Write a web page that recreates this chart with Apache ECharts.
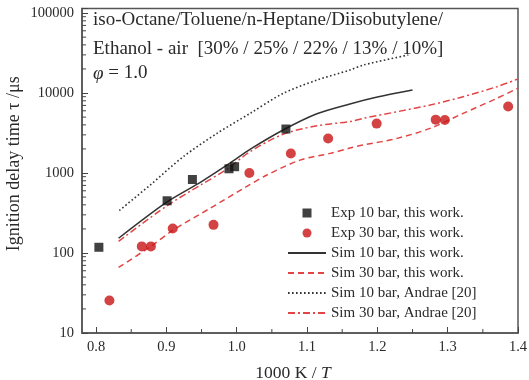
<!DOCTYPE html>
<html>
<head>
<meta charset="utf-8">
<script src="https://cdn.jsdelivr.net/npm/echarts@6/dist/echarts.min.js"></script>
<style>
  html, body { margin: 0; padding: 0; background: #fff; }
  #main { width: 529px; height: 380px; }
</style>
</head>
<body>
<div id="main"></div>
<script>
// 1000 K / T vs ignition delay time (µs)
var exp10 = [[0.804, 118], [0.901, 450], [0.937, 830], [0.989, 1130], [0.997, 1200], [1.070, 3550]];
var exp30 = [[0.819, 25.5], [0.865, 121], [0.878, 121], [0.909, 202], [0.967, 225], [1.018, 1000],
             [1.077, 1750], [1.130, 2700], [1.199, 4150], [1.283, 4650], [1.296, 4600], [1.386, 6800]];
var sim10 = [[0.832, 153], [0.9, 430], [0.95, 780], [0.99, 1320], [1.02, 2000], [1.066, 3450],
             [1.114, 5500], [1.161, 7300], [1.2, 8900], [1.25, 10900]];
var sim30 = [[0.832, 66], [0.877, 120], [0.91, 194], [0.962, 362], [1.01, 644], [1.043, 944],
             [1.09, 1450], [1.133, 1760], [1.161, 2050], [1.18, 2240], [1.228, 2710], [1.275, 3620],
             [1.322, 5570], [1.37, 8590], [1.4, 11500]];
var andrae10 = [[0.833, 340], [0.877, 708], [0.924, 1600], [0.972, 3130], [1.019, 5570], [1.066, 9900],
                [1.114, 14500], [1.161, 19400], [1.18, 22400], [1.244, 29900]];
var andrae30 = [[0.832, 140], [0.9, 385], [0.95, 720], [0.985, 1100], [1.019, 1850], [1.066, 3050],
                [1.114, 3900], [1.161, 4400], [1.18, 4830], [1.228, 5840], [1.275, 7080], [1.322, 9000],
                [1.37, 12000], [1.4, 15000]];
var titleLines = ['iso-Octane/Toluene/n-Heptane/Diisobutylene/',
                  'Ethanol - air  [30% / 25% / 22% / 13% / 10%]',
                  '{i|φ} = 1.0'];

var xMin = 0.78, xMax = 1.4, yMin = 10, yMax = 114000;
var serif = '"Liberation Serif", "DejaVu Serif", serif';
var ink = '#2a2a2a';
var red = '#c81414';
var lightRed = '#e24545';

// minor ticks (log decades 2..9, x halves)
var minorTicks = [];
for (var d = 10; d < 100000; d *= 10) {
    for (var k = 2; k <= 9; k++) minorTicks.push([xMin, d * k, 0]);
}
for (var t = 0.85; t < 1.4; t += 0.1) minorTicks.push([+t.toFixed(2), yMin, 1]);

var chart = echarts.init(document.getElementById('main'));

var hideDot = { opacity: 0 };

var option = {
    animation: false,
    backgroundColor: '#fff',
    grid: {
        left: 82, right: 11, top: 8.5, bottom: 47,
        outerBoundsMode: 'none',
        containLabel: false,
        show: true, borderColor: '#555', borderWidth: 1.5
    },
    xAxis: {
        type: 'value',
        min: xMin, max: xMax,
        name: '{n|1000 K / }{i|T}',
        nameLocation: 'middle',
        nameGap: 31,
        nameTextStyle: {
            padding: [0, 14, 0, 0],
            rich: {
                n: { fontFamily: serif, fontSize: 17.5, color: ink },
                i: { fontFamily: serif, fontSize: 17.5, color: ink, fontStyle: 'italic' }
            }
        },
        splitLine: { show: false },
        axisLine: { lineStyle: { color: '#555', width: 1.5 } },
        axisTick: { inside: true, length: 6, lineStyle: { color: '#444' } },
        axisLabel: {
            showMinLabel: false,
            fontFamily: serif, fontSize: 14.5, color: ink, margin: 7,
            formatter: function (v) { return v.toFixed(1); }
        }
    },
    yAxis: {
        type: 'log',
        logBase: 10,
        min: yMin, max: yMax,
        name: 'Ignition delay time τ /μs',
        nameLocation: 'middle',
        nameGap: 59,
        nameMoveOverlap: false,
        nameTextStyle: { fontFamily: serif, fontSize: 18, color: ink, padding: [0, 0, 0, 14] },
        splitLine: { show: false },
        axisLine: { lineStyle: { color: '#555', width: 1.5 } },
        axisTick: { inside: true, length: 6, lineStyle: { color: '#444' } },
        axisLabel: {
            fontFamily: serif, fontSize: 14.5, color: ink, margin: 8,
            formatter: function (v) {
                var l = Math.log10(v);
                return Math.abs(l - Math.round(l)) < 1e-6 ? String(Math.round(v)) : '';
            }
        }
    },
    legend: {
        orient: 'vertical',
        left: 287, top: 205, padding: 0,
        itemWidth: 38, itemHeight: 9, itemGap: 4,
        textStyle: { fontFamily: serif, fontSize: 15, color: ink, lineHeight: 16 },
        data: [
            { name: 'Exp 10 bar, this work.', icon: 'path://M0,0H8V8H0Z' },
            { name: 'Exp 30 bar, this work.', icon: 'circle' },
            { name: 'Sim 10 bar, this work.', itemStyle: hideDot },
            { name: 'Sim 30 bar, this work.', itemStyle: hideDot },
            { name: 'Sim 10 bar, Andrae [20]', itemStyle: hideDot },
            { name: 'Sim 30 bar, Andrae [20]', itemStyle: hideDot }
        ]
    },
    graphic: titleLines.map(function (s, i) {
        return {
            type: 'text', left: 93, top: [11, 40, 64][i],
            style: {
                text: s, fontFamily: serif, fontSize: 19, fill: ink,
                rich: { i: { fontFamily: serif, fontSize: 19, fontStyle: 'italic', fill: ink } }
            }
        };
    }),
    series: [
        {
            name: 'Sim 10 bar, Andrae [20]', type: 'line', data: andrae10, smooth: 0.3,
            symbol: 'none', lineStyle: { color: '#333', width: 1.6, type: [1.6, 2.4] },
            itemStyle: { color: '#333' }
        },
        {
            name: 'Sim 30 bar, Andrae [20]', type: 'line', data: andrae30, smooth: 0.3,
            symbol: 'none', lineStyle: { color: lightRed, width: 1.5, type: [7, 3, 2, 3] },
            itemStyle: { color: lightRed }
        },
        {
            name: 'Sim 10 bar, this work.', type: 'line', data: sim10, smooth: 0.3,
            symbol: 'none', lineStyle: { color: '#333', width: 1.5 },
            itemStyle: { color: '#333' }
        },
        {
            name: 'Sim 30 bar, this work.', type: 'line', data: sim30, smooth: 0.3,
            symbol: 'none', lineStyle: { color: lightRed, width: 1.5, type: [6, 4] },
            itemStyle: { color: lightRed }
        },
        {
            name: 'Exp 10 bar, this work.', type: 'scatter', data: exp10,
            symbol: 'rect', symbolSize: 9, itemStyle: { color: '#111' }, z: 5
        },
        {
            name: 'Exp 30 bar, this work.', type: 'scatter', data: exp30,
            symbol: 'circle', symbolSize: 10, itemStyle: { color: red }, z: 5
        },
        {
            type: 'custom', silent: true, data: minorTicks,
            encode: { x: 0, y: 1 },
            renderItem: function (params, api) {
                var p = api.coord([api.value(0), api.value(1)]);
                var horiz = api.value(2) === 0;
                return {
                    type: 'line',
                    shape: horiz ? { x1: p[0], y1: p[1], x2: p[0] + 4, y2: p[1] }
                                 : { x1: p[0], y1: p[1], x2: p[0], y2: p[1] - 4 },
                    style: { stroke: '#444', lineWidth: 1 }
                };
            }
        }
    ]
};

chart.setOption(option);
</script>
</body>
</html>
